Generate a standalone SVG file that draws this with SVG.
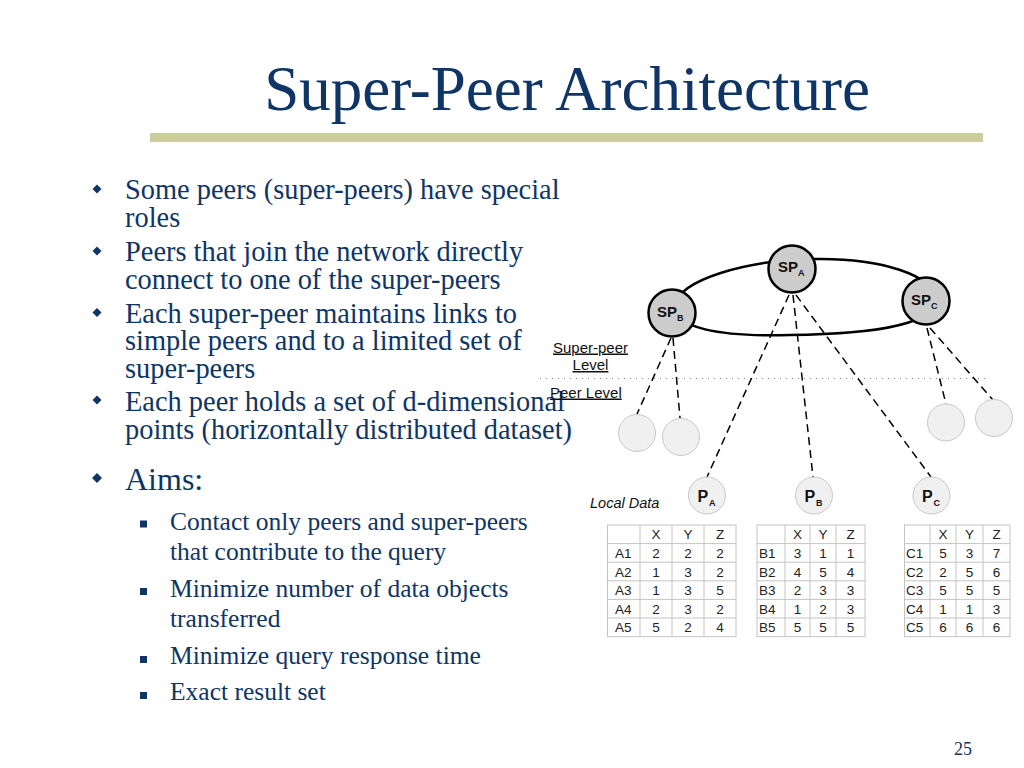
<svg xmlns="http://www.w3.org/2000/svg" width="1024" height="768" viewBox="0 0 1024 768">
<defs>
<style>
.serif{font-family:"Liberation Serif","Times New Roman",serif;fill:#0e3566}
.b1{font-size:28.4px}
.b2{font-size:25.5px}
.sans{font-family:"Liberation Sans",Arial,sans-serif;fill:#111}
.lbl{font-size:15px;text-decoration:underline}
.tb{font-size:13.5px;fill:#222}
.grid{stroke:#c4c4c4;stroke-width:1;fill:none}
.sp{fill:#cccccc;stroke:#000;stroke-width:2.5}
.pc{fill:#f0f0f0;stroke:#c8c8c8;stroke-width:1}
.dash{stroke:#000;stroke-width:1.5;stroke-dasharray:8 5;fill:none}
.bold{font-weight:bold}
</style>
</defs>
<rect width="1024" height="768" fill="#ffffff"/>

<g id="title">
<text class="serif" x="567" y="110" font-size="63" text-anchor="middle">Super-Peer Architecture</text>
<rect x="150" y="133" width="833" height="9" fill="#cbcd9c"/>
</g>

<g id="bullets">
<g fill="#0e3566">
<polygon points="97,184.5 101.5,189 97,193.5 92.5,189"/>
<polygon points="97,246.5 101.5,251 97,255.5 92.5,251"/>
<polygon points="97,308 101.5,312.5 97,317 92.5,312.5"/>
<polygon points="97,395.5 101.5,400 97,404.5 92.5,400"/>
<polygon points="97,473 102,478 97,483 92,478"/>
<rect x="140" y="520.5" width="7" height="7"/>
<rect x="140" y="588" width="7" height="7"/>
<rect x="140" y="656" width="7" height="7"/>
<rect x="140" y="692" width="7" height="7"/>
</g>
<text class="serif b1" x="125" y="199">Some peers (super-peers) have special</text>
<text class="serif b1" x="125" y="227">roles</text>
<text class="serif b1" x="125" y="261">Peers that join the network directly</text>
<text class="serif b1" x="125" y="288.5">connect to one of the super-peers</text>
<text class="serif b1" x="125" y="322.5">Each super-peer maintains links to</text>
<text class="serif b1" x="125" y="350">simple peers and to a limited set of</text>
<text class="serif b1" x="125" y="377.5">super-peers</text>
<text class="serif b1" x="125" y="411">Each peer holds a set of d-dimensional</text>
<text class="serif b1" x="125" y="438.5">points (horizontally distributed dataset)</text>
<text class="serif" x="125" y="490" font-size="32">Aims:</text>
<text class="serif b2" x="170" y="530">Contact only peers and super-peers</text>
<text class="serif b2" x="170" y="560">that contribute to the query</text>
<text class="serif b2" x="170" y="597">Minimize number of data objects</text>
<text class="serif b2" x="170" y="627">transferred</text>
<text class="serif b2" x="170" y="664">Minimize query response time</text>
<text class="serif b2" x="170" y="700">Exact result set</text>
</g>

<g id="levels">
<line x1="540" y1="378.5" x2="985" y2="378.5" stroke="#8a8a8a" stroke-width="1" stroke-dasharray="1 5"/>
<text class="sans lbl" x="590.5" y="352.5" text-anchor="middle">Super-peer</text>
<text class="sans lbl" x="590.5" y="370" text-anchor="middle">Level</text>
<text class="sans lbl" x="550" y="397.5">Peer Level</text>
</g>

<g id="connectors">
<path d="M 675,305 C 680,280 745,260 815,259 C 880,258 935,275 935,300 C 935,323 880,334 790,335 C 720,337 672,328 675,305 Z" fill="none" stroke="#000" stroke-width="2.5"/>
<line class="dash" x1="671" y1="338" x2="637" y2="414"/>
<line class="dash" x1="673" y1="338" x2="680" y2="418"/>
<line class="dash" x1="789" y1="295" x2="707" y2="477"/>
<line class="dash" x1="793" y1="295" x2="813" y2="477"/>
<line class="dash" x1="796" y1="295" x2="931" y2="477"/>
<line class="dash" x1="927" y1="328" x2="946" y2="404"/>
<line class="dash" x1="930" y1="328" x2="993" y2="400"/>
</g>

<g id="SPA">
<circle class="sp" cx="792" cy="269" r="23.5"/>
<text class="sans bold" x="778" y="272" font-size="15">SP</text>
<text class="sans bold" x="798" y="276" font-size="9">A</text>
</g>
<g id="SPB">
<circle class="sp" cx="672" cy="313" r="23.5"/>
<text class="sans bold" x="657" y="317" font-size="15">SP</text>
<text class="sans bold" x="677" y="321" font-size="9">B</text>
</g>
<g id="SPC">
<circle class="sp" cx="926" cy="301" r="23.5"/>
<text class="sans bold" x="911" y="305" font-size="15">SP</text>
<text class="sans bold" x="931" y="309" font-size="9">C</text>
</g>

<g id="peer1"><circle class="pc" cx="637" cy="433" r="18.5"/></g>
<g id="peer2"><circle class="pc" cx="681" cy="437" r="18.5"/></g>
<g id="peer3"><circle class="pc" cx="946" cy="422.5" r="18.5"/></g>
<g id="peer4"><circle class="pc" cx="994" cy="418" r="18.5"/></g>

<g id="PA">
<circle class="pc" cx="707" cy="495.5" r="18.5"/>
<text class="sans bold" x="697.5" y="502" font-size="16">P</text>
<text class="sans bold" x="709" y="506" font-size="9">A</text>
</g>
<g id="PB">
<circle class="pc" cx="814" cy="495.5" r="18.5"/>
<text class="sans bold" x="804.5" y="502" font-size="16">P</text>
<text class="sans bold" x="816" y="506" font-size="9">B</text>
</g>
<g id="PC">
<circle class="pc" cx="931.5" cy="495.5" r="18.5"/>
<text class="sans bold" x="922" y="502" font-size="16">P</text>
<text class="sans bold" x="933.5" y="506" font-size="9">C</text>
</g>

<text class="sans" x="590" y="508" font-size="14.5" font-style="italic">Local Data</text>

<g id="tableA">
<rect class="grid" x="607.5" y="525" width="128.5" height="111.6"/>
<path class="grid" d="M640,525V636.6M672,525V636.6M704,525V636.6M607.5,543.6H736M607.5,562.2H736M607.5,580.8H736M607.5,599.4H736M607.5,618H736"/>
<g class="sans tb" text-anchor="middle">
<text x="656" y="539.3">X</text><text x="688" y="539.3">Y</text><text x="720" y="539.3">Z</text>
<text x="656" y="557.9">2</text><text x="688" y="557.9">2</text><text x="720" y="557.9">2</text>
<text x="656" y="576.5">1</text><text x="688" y="576.5">3</text><text x="720" y="576.5">2</text>
<text x="656" y="595.1">1</text><text x="688" y="595.1">3</text><text x="720" y="595.1">5</text>
<text x="656" y="613.7">2</text><text x="688" y="613.7">3</text><text x="720" y="613.7">2</text>
<text x="656" y="632.3">5</text><text x="688" y="632.3">2</text><text x="720" y="632.3">4</text>
</g>
<g class="sans tb">
<text x="615" y="557.9">A1</text><text x="615" y="576.5">A2</text><text x="615" y="595.1">A3</text><text x="615" y="613.7">A4</text><text x="615" y="632.3">A5</text>
</g>
</g>

<g id="tableB">
<rect class="grid" x="757" y="525" width="108" height="111.6"/>
<path class="grid" d="M785,525V636.6M810,525V636.6M836,525V636.6M757,543.6H865M757,562.2H865M757,580.8H865M757,599.4H865M757,618H865"/>
<g class="sans tb" text-anchor="middle">
<text x="797.5" y="539.3">X</text><text x="823" y="539.3">Y</text><text x="850.5" y="539.3">Z</text>
<text x="797.5" y="557.9">3</text><text x="823" y="557.9">1</text><text x="850.5" y="557.9">1</text>
<text x="797.5" y="576.5">4</text><text x="823" y="576.5">5</text><text x="850.5" y="576.5">4</text>
<text x="797.5" y="595.1">2</text><text x="823" y="595.1">3</text><text x="850.5" y="595.1">3</text>
<text x="797.5" y="613.7">1</text><text x="823" y="613.7">2</text><text x="850.5" y="613.7">3</text>
<text x="797.5" y="632.3">5</text><text x="823" y="632.3">5</text><text x="850.5" y="632.3">5</text>
</g>
<g class="sans tb">
<text x="759" y="557.9">B1</text><text x="759" y="576.5">B2</text><text x="759" y="595.1">B3</text><text x="759" y="613.7">B4</text><text x="759" y="632.3">B5</text>
</g>
</g>

<g id="tableC">
<rect class="grid" x="904.5" y="525" width="105.5" height="111.6"/>
<path class="grid" d="M930,525V636.6M956,525V636.6M983,525V636.6M904.5,543.6H1010M904.5,562.2H1010M904.5,580.8H1010M904.5,599.4H1010M904.5,618H1010"/>
<g class="sans tb" text-anchor="middle">
<text x="943" y="539.3">X</text><text x="969.5" y="539.3">Y</text><text x="996.5" y="539.3">Z</text>
<text x="943" y="557.9">5</text><text x="969.5" y="557.9">3</text><text x="996.5" y="557.9">7</text>
<text x="943" y="576.5">2</text><text x="969.5" y="576.5">5</text><text x="996.5" y="576.5">6</text>
<text x="943" y="595.1">5</text><text x="969.5" y="595.1">5</text><text x="996.5" y="595.1">5</text>
<text x="943" y="613.7">1</text><text x="969.5" y="613.7">1</text><text x="996.5" y="613.7">3</text>
<text x="943" y="632.3">6</text><text x="969.5" y="632.3">6</text><text x="996.5" y="632.3">6</text>
</g>
<g class="sans tb">
<text x="906" y="557.9">C1</text><text x="906" y="576.5">C2</text><text x="906" y="595.1">C3</text><text x="906" y="613.7">C4</text><text x="906" y="632.3">C5</text>
</g>
</g>

<text class="serif" x="963" y="755" font-size="18" text-anchor="middle">25</text>
</svg>
